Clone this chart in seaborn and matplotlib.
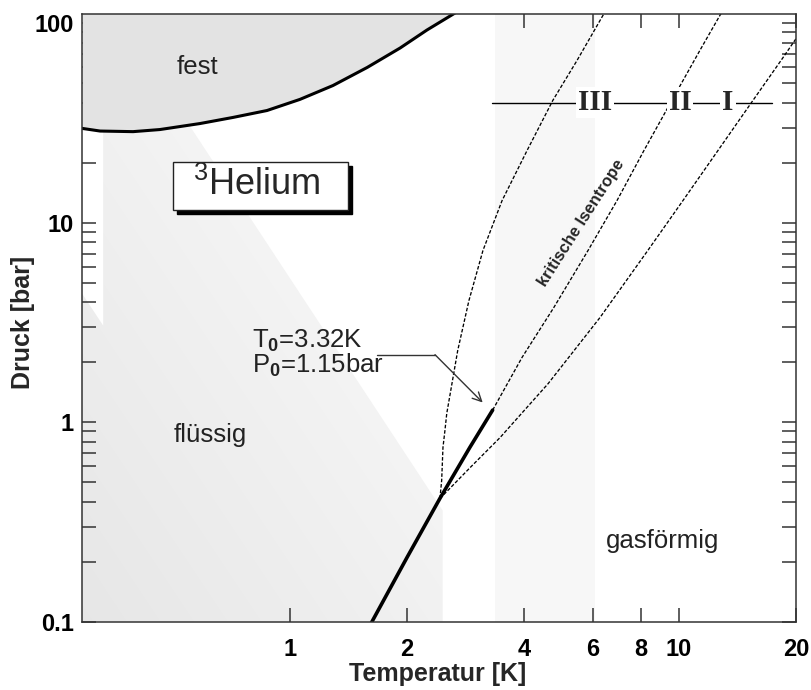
import numpy as np
import matplotlib
matplotlib.use("Agg")
import matplotlib.pyplot as plt
import seaborn as sns
from matplotlib.patches import Polygon, Rectangle
from matplotlib.ticker import LogLocator, NullFormatter, NullLocator

# ---------------- data ----------------
# melting curve (solid / liquid boundary)
melt_T = [0.292, 0.325, 0.395, 0.463, 0.587, 0.714, 0.873, 1.061, 1.29, 1.58, 1.92, 2.25, 2.62, 2.77]
melt_P = [29.7, 28.8, 28.6, 29.3, 31.4, 33.7, 36.5, 41.5, 48.7, 60.0, 75.1, 92.4, 110.6, 118.5]

# vapour pressure curve up to the critical point
vap_T = [1.55, 1.625, 2.0, 2.43, 2.9, 3.32]
vap_P = [0.084, 0.1, 0.21, 0.415, 0.747, 1.15]

# isentropes
iso3_T = [2.43, 2.455, 2.474, 2.503, 2.53, 2.70, 2.885, 3.135, 3.51, 4.07, 4.74, 5.47, 6.38, 6.65]
iso3_P = [0.415, 0.51, 0.747, 0.909, 1.105, 2.29, 4.07, 7.26, 12.9, 23.0, 41.0, 65.0, 109.5, 130.0]

iso2_T = [3.32, 3.95, 4.77, 5.84, 6.93, 8.13, 9.59, 11.32, 12.75, 13.5]
iso2_P = [1.15, 2.11, 3.76, 7.26, 12.9, 23.0, 41.0, 73.0, 109.5, 130.0]

iso1_T = [2.43, 2.53, 2.90, 3.47, 4.61, 6.27, 8.32, 10.24, 12.6, 15.5, 18.3, 20.1, 21.2]
iso1_P = [0.415, 0.449, 0.590, 0.838, 1.56, 3.35, 7.26, 12.9, 23.0, 41.0, 65.0, 84.8, 97.3]

# shaded liquid region outline
liquid_T = [0.331, 0.553, 2.47, 2.47, 0.292, 0.292, 0.331]
liquid_P = [28.7, 30.5, 0.361, 0.1, 0.1, 4.42, 3.05]

# faint band in the gas region
gas_band_T = [3.37, 6.08]

# 40 bar reference line with isentrope labels
ref_P = 40.0
ref_T = [3.31, 17.4]
iso_labels = ["III", "II", "I"]
iso_label_T = [6.08, 10.06, 13.36]

x_ticks = [1, 2, 4, 6, 8, 10, 20]
x_ticklabels = ["1", "2", "4", "6", "8", "10", "20"]
y_ticks = [0.1, 1, 10, 100]
y_ticklabels = ["0.1", "1", "10", "100"]

# ---------------- style ----------------
sns.set_theme(style="white")
plt.rcParams["font.family"] = ["Liberation Sans", "DejaVu Sans"]
plt.rcParams["mathtext.fontset"] = "custom"
plt.rcParams["mathtext.rm"] = "Liberation Sans"
plt.rcParams["mathtext.bf"] = "Liberation Sans:bold"
plt.rcParams["mathtext.it"] = "Liberation Sans:italic"

fig = plt.figure(figsize=(8.12, 6.90), dpi=100)
ax = fig.add_axes([82 / 812, 68.3 / 690, 714 / 812, 607.4 / 690])
ax.set_xscale("log")
ax.set_yscale("log")
ax.set_xlim(0.292, 20)
ax.set_ylim(0.1, 110.8)
ax.set_facecolor("white")

# background shading
ax.axvspan(gas_band_T[0], gas_band_T[1], color="#f7f7f7", lw=0, zorder=0.2)
ax.fill_between(melt_T, melt_P, 1000, color="#e3e3e3", lw=0, zorder=1)

ny, nx = 300, 300
FX, FY = np.meshgrid(np.linspace(0, 1, nx), np.linspace(0, 1, ny))
u = (82 + FX * 714) - (621.7 - FY * 607.4) / 1.5
g = np.interp(u, [-330, 100], [0.905, 0.955])
img = np.dstack([g, g, g])
im = ax.imshow(img, extent=(0, 1, 0, 1), origin="lower", transform=ax.transAxes,
               aspect="auto", zorder=0.5, interpolation="bilinear")
poly = Polygon(np.column_stack([liquid_T, liquid_P]), closed=True,
               transform=ax.transData, facecolor="none", edgecolor="none")
ax.add_patch(poly)
im.set_clip_path(poly)
ax.set_xlim(0.292, 20)
ax.set_ylim(0.1, 110.8)

# curves
sns.lineplot(x=melt_T, y=melt_P, ax=ax, color="black", lw=2.2, sort=False,
             estimator=None, zorder=3)
sns.lineplot(x=vap_T, y=vap_P, ax=ax, color="black", lw=2.6, sort=False,
             estimator=None, zorder=3)
dash = (0, (2.7, 1.4))
for tt, pp in [(iso3_T, iso3_P), (iso2_T, iso2_P), (iso1_T, iso1_P)]:
    sns.lineplot(x=tt, y=pp, ax=ax, color="black", lw=0.95, linestyle=dash,
                 sort=False, estimator=None, zorder=3)

# 40 bar line and labels
ax.plot(ref_T, [ref_P, ref_P], color="black", lw=1.0, zorder=3)
for lab, t in zip(iso_labels, iso_label_T):
    ax.text(t, ref_P, lab, family="Liberation Serif", fontweight="bold", fontsize=21,
            ha="center", va="center", zorder=5,
            bbox=dict(fc="white", ec="none", pad=1.5))

# phase labels
txt_kw = dict(fontsize=18.5, ha="center", va="center", color="#222222", zorder=5)
ax.text(0.58, 60, "fest", **txt_kw)
ax.text(0.623, 0.858, "flüssig", **txt_kw)
ax.text(9.1, 0.255, "gasförmig", **txt_kw)

ax.text(5.6, 10.0, "kritische Isentrope", rotation=57.4, rotation_mode="anchor",
        ha="center", va="center", fontsize=12, fontweight="bold", zorder=5)

# critical point annotation
ax.text(0.798, 2.57, r"T$_{\mathbf{0}}$=3.32K", fontsize=18.5, ha="left", va="center",
        color="#222222", zorder=5)
ax.text(0.798, 1.92, r"P$_{\mathbf{0}}$=1.15bar", fontsize=18.5, ha="left", va="center",
        color="#222222", zorder=5)
ax.plot([1.674, 2.36], [2.18, 2.18], color="#333333", lw=1.0, zorder=4)
ax.annotate("", xy=(3.13, 1.255), xytext=(2.36, 2.18),
            arrowprops=dict(arrowstyle="->", color="#333333", lw=1.0,
                            shrinkA=0, shrinkB=0, mutation_scale=16), zorder=4)

# 3Helium box with shadow
ax.add_patch(Rectangle((0.1275 + 0.0056, 0.6778 - 0.0066), 0.245, 0.079,
                       transform=ax.transAxes, fc="black", ec="black", zorder=6))
ax.add_patch(Rectangle((0.1275, 0.6778), 0.245, 0.079, transform=ax.transAxes,
                       fc="white", ec="#222222", lw=1.0, zorder=7))
ax.text(0.2444, 0.7025, r"${}^{3}$Helium", transform=ax.transAxes, fontsize=26,
        ha="center", va="baseline", zorder=8)

# axes, ticks
ax.set_xticks(x_ticks, x_ticklabels, fontweight="bold", fontsize=17)
ax.xaxis.set_minor_locator(NullLocator())
ax.set_yticks(y_ticks, y_ticklabels, fontweight="bold", fontsize=17)
ax.yaxis.set_minor_locator(LogLocator(base=10, subs=np.arange(2, 10)))
ax.yaxis.set_minor_formatter(NullFormatter())
ax.tick_params(axis="both", which="both", direction="in", length=10, width=1.1,
               color="#333333", labelcolor="black")
ax.tick_params(axis="x", which="both", top=True, bottom=True, pad=12)
ax.tick_params(axis="y", which="both", left=True, right=True, pad=6)
for s in ax.spines.values():
    s.set_color("#333333")
    s.set_linewidth(1.1)
    s.set_zorder(10)

ax.set_xlabel("Temperatur [K]", fontsize=18, fontweight="bold", va="center")
ax.xaxis.set_label_coords(0.498, -0.086)
ax.set_ylabel("Druck [bar]", fontsize=18, fontweight="bold", va="center")
ax.yaxis.set_label_coords(-0.0826, 0.493)

fig.savefig("out.png", dpi=100)
